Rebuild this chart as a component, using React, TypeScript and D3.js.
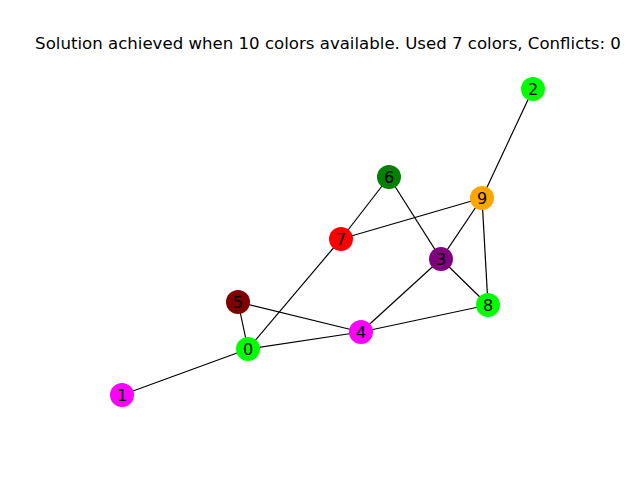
import React, { useRef, useEffect } from "react";
import * as d3 from "d3";

const nodeIds = [0, 1, 2, 3, 4, 5, 6, 7, 8, 9];
const nodeX = [248, 122, 533, 441, 361, 238, 389, 341, 488, 482];
const nodeY = [131, 85, 391, 221, 148, 178, 303, 241, 175, 282];
const nodeColors = ["#00ff00", "#ff00ff", "#00ff00", "#800080", "#ff00ff", "#800000", "#008000", "#ff0000", "#00ff00", "#ffa500"];
const edges: [number, number][] = [
  [0, 1], [0, 5], [0, 4], [0, 7], [5, 4], [4, 3], [4, 8], [3, 8],
  [3, 9], [3, 6], [6, 7], [7, 9], [9, 2], [9, 8],
];
const title = "Solution achieved when 10 colors available. Used 7 colors, Conflicts: 0";

const App = () => {
  const ref = useRef<SVGSVGElement>(null);

  useEffect(() => {
    const svg = d3.select(ref.current);
    svg.selectAll("*").remove();
    const x = d3.scaleLinear().domain([0, 640]).range([0, 640]);
    const y = d3.scaleLinear().domain([0, 480]).range([480, 0]);

    svg.append("rect").attr("width", 640).attr("height", 480).attr("fill", "white");

    svg.selectAll("line.edge")
      .data(edges)
      .enter()
      .append("line")
      .attr("x1", d => x(nodeX[d[0]]))
      .attr("y1", d => y(nodeY[d[0]]))
      .attr("x2", d => x(nodeX[d[1]]))
      .attr("y2", d => y(nodeY[d[1]]))
      .attr("stroke", "black")
      .attr("stroke-width", 1.2);

    const g = svg.selectAll("g.node")
      .data(nodeIds)
      .enter()
      .append("g")
      .attr("transform", d => `translate(${x(nodeX[d])},${y(nodeY[d])})`);
    g.append("circle").attr("r", 12).attr("fill", d => nodeColors[d]);
    g.append("text")
      .text(d => String(d))
      .attr("text-anchor", "middle")
      .attr("dy", "0.36em")
      .attr("font-family", "DejaVu Sans")
      .attr("font-size", 16);

    svg.append("text")
      .attr("x", 328)
      .attr("y", 49)
      .attr("text-anchor", "middle")
      .attr("font-family", "DejaVu Sans")
      .attr("font-size", 16.6)
      .text(title);
  }, []);

  return (
    <svg ref={ref} width={640} height={480} style={{ position: "absolute", left: 0, top: 0 }} />
  );
};

export default App;
